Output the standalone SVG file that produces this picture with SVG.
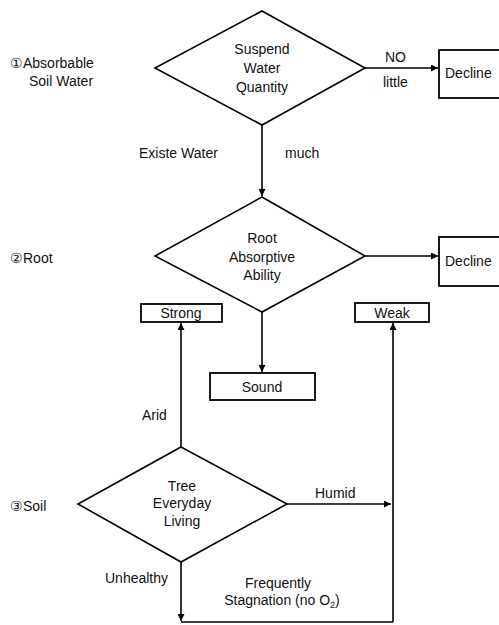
<svg xmlns="http://www.w3.org/2000/svg" width="499" height="625" viewBox="0 0 499 625">
<defs>
<marker id="ah" viewBox="0 0 10 10" refX="10" refY="5" markerWidth="7" markerHeight="7" markerUnits="userSpaceOnUse" orient="auto">
<path d="M0,0 L10,5 L0,10 z" fill="#000"/>
</marker>
</defs>
<style>
text{font-family:"Liberation Sans",Arial,sans-serif;font-size:14px;fill:#111;}
.c{text-anchor:middle;}
.shape{fill:none;stroke:#000;stroke-width:1.6;}
.box{fill:#fff;stroke:#000;stroke-width:1.8;}
.ln{fill:none;stroke:#000;stroke-width:1.6;}
.arr{fill:none;stroke:#000;stroke-width:1.6;marker-end:url(#ah);}
</style>
<rect width="499" height="625" fill="#fff"/>

<g id="row-labels">
<text x="10" y="68">①Absorbable</text>
<text x="29" y="86">Soil Water</text>
<text x="10" y="263">②Root</text>
<text x="10" y="511">③Soil</text>
</g>

<g id="connectors">
<line class="arr" x1="262" y1="125" x2="262" y2="196"/>
<line class="arr" x1="365" y1="68" x2="438" y2="68"/>
<line class="arr" x1="365" y1="256" x2="438" y2="256"/>
<line class="arr" x1="262" y1="312" x2="262" y2="372"/>
<line class="arr" x1="181" y1="447" x2="181" y2="323"/>
<line class="arr" x1="287" y1="504" x2="391" y2="504"/>
<line class="arr" x1="181" y1="562" x2="181" y2="621"/>
<polyline class="ln" points="181,622 393,622"/>
<line class="arr" x1="393" y1="622" x2="393" y2="323"/>
<text x="385" y="62">NO</text>
<text x="383" y="87">little</text>
<text x="285" y="158">much</text>
<text x="139" y="158">Existe Water</text>
<text x="142" y="420">Arid</text>
<text x="315" y="498">Humid</text>
<text x="105" y="583">Unhealthy</text>
<text class="c" x="278" y="588">Frequently</text>
<text class="c" x="282" y="605">Stagnation (no O<tspan font-size="9" dy="3">2</tspan><tspan dy="-3">)</tspan></text>
</g>

<g id="suspend">
<polygon class="shape" points="262,11 365,68 262,125 155,68"/>
<text class="c" x="262" y="54">Suspend</text>
<text class="c" x="262" y="73">Water</text>
<text class="c" x="262" y="92">Quantity</text>
</g>

<g id="decline1">
<rect class="box" x="439" y="50" width="70" height="48"/>
<text x="445" y="78">Decline</text>
</g>

<g id="root">
<polygon class="shape" points="262,197 365,256 262,312 155,256"/>
<text class="c" x="262" y="243">Root</text>
<text class="c" x="262" y="262">Absorptive</text>
<text class="c" x="262" y="280">Ability</text>
</g>

<g id="decline2">
<rect class="box" x="439" y="237" width="70" height="49"/>
<text x="445" y="266">Decline</text>
</g>

<g id="strong">
<rect class="box" x="141" y="304" width="81" height="18"/>
<text class="c" x="181" y="318">Strong</text>
</g>

<g id="weak">
<rect class="box" x="355" y="303" width="74" height="19"/>
<text class="c" x="392" y="318">Weak</text>
</g>

<g id="sound">
<rect class="box" x="210" y="373" width="105" height="27"/>
<text class="c" x="262" y="392">Sound</text>
</g>

<g id="tree">
<polygon class="shape" points="181,447 287,504 181,562 78,504"/>
<text class="c" x="182" y="491">Tree</text>
<text class="c" x="182" y="508">Everyday</text>
<text class="c" x="182" y="526">Living</text>
</g>
</svg>
